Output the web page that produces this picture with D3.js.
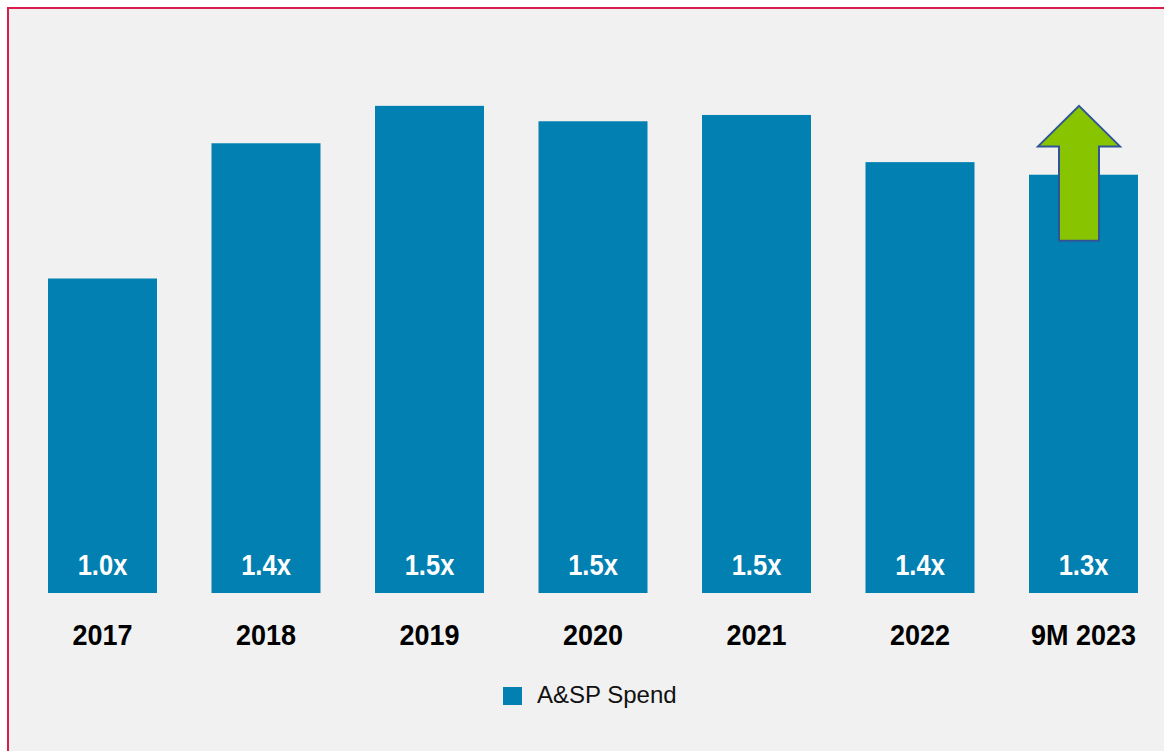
<!DOCTYPE html>
<html>
<head>
<meta charset="utf-8">
<script src="https://cdn.jsdelivr.net/npm/d3@7/dist/d3.min.js"></script>
<style>
  html, body { margin: 0; padding: 0; background: #ffffff; }
  svg { display: block; }
</style>
</head>
<body>
<script>
// A&SP spend, indexed to 2017 = 1.0x
const categories = ["2017", "2018", "2019", "2020", "2021", "2022", "9M 2023"];
const spendIndex = [1.0, 1.43, 1.549, 1.50, 1.52, 1.37, 1.33];
const seriesName = "A&SP Spend";

const W = 1164, H = 751;
const barColor = "#0280b2";
const boldFont = "'Liberation Sans', Arial, sans-serif";
const narrow = 0.88; // horizontal squeeze for the condensed bold labels

const svg = d3.select("body").append("svg")
  .attr("width", W).attr("height", H);

// panel background with a crimson frame on the top and left edges
svg.append("rect").attr("x", 8).attr("y", 8).attr("width", W - 8).attr("height", H - 8)
  .attr("fill", "#f1f1f1");
svg.append("path")
  .attr("d", `M8,${H} V8 H${W}`)
  .attr("fill", "none").attr("stroke", "#d81e4c").attr("stroke-width", 2);

const x = d3.scaleBand()
  .domain(categories)
  .range([48, 1138])
  .paddingInner(1 / 3)
  .paddingOuter(0);

const baseY = 593;
const y = d3.scaleLinear().domain([0, 1.8]).range([baseY, baseY - 1.8 * 314.5]);

const rows = categories.map((c, i) => ({ cat: c, v: spendIndex[i] }));

// bars
svg.append("g").selectAll("rect").data(rows).join("rect")
  .attr("x", d => x(d.cat))
  .attr("y", d => y(d.v))
  .attr("width", x.bandwidth())
  .attr("height", d => y(0) - y(d.v))
  .attr("fill", barColor);

// value labels inside the bars
const fmt = d3.format(".1f");
svg.append("g").selectAll("text").data(rows).join("text")
  .attr("transform", d => `translate(${x(d.cat) + x.bandwidth() / 2},${baseY - 18}) scale(${narrow},1)`)
  .attr("text-anchor", "middle")
  .attr("fill", "#ffffff")
  .attr("font-family", boldFont)
  .attr("font-weight", "bold")
  .attr("font-size", 29)
  .text(d => fmt(d.v) + "x");

// category axis
const xAxis = svg.append("g")
  .attr("transform", `translate(0,${baseY})`)
  .call(d3.axisBottom(x).tickSize(0).tickPadding(0));
xAxis.select(".domain").remove();
xAxis.selectAll("text")
  .attr("dy", 0)
  .attr("y", 0)
  .attr("transform", "translate(0,52) scale(0.9,1)")
  .attr("fill", "#000000")
  .attr("font-family", boldFont)
  .attr("font-weight", "bold")
  .attr("font-size", 30);

// upward arrow over the latest period
const last = categories[categories.length - 1];
const cx = x(last) + x.bandwidth() / 2 - 4.5;
const tipY = y(d3.max(spendIndex));
const shoulderY = y(1.42);
const bottomY = y(1.12);
const headHalf = 41, shaftHalf = 20;
const arrow = d3.path();
arrow.moveTo(cx, tipY);
arrow.lineTo(cx + headHalf, shoulderY);
arrow.lineTo(cx + shaftHalf, shoulderY);
arrow.lineTo(cx + shaftHalf, bottomY);
arrow.lineTo(cx - shaftHalf, bottomY);
arrow.lineTo(cx - shaftHalf, shoulderY);
arrow.lineTo(cx - headHalf, shoulderY);
arrow.closePath();
svg.append("path")
  .attr("d", arrow.toString())
  .attr("fill", "#88c400")
  .attr("stroke", "#2f5597")
  .attr("stroke-width", 2)
  .attr("stroke-linejoin", "miter");

// legend
const legend = svg.append("g").attr("transform", "translate(503,687)");
legend.append("rect").attr("width", 19).attr("height", 18).attr("fill", barColor);
legend.append("text")
  .attr("x", 34).attr("y", 16)
  .attr("fill", "#111111")
  .attr("font-family", "'Liberation Sans', Arial, sans-serif")
  .attr("font-size", 24)
  .text(seriesName);
</script>
</body>
</html>
